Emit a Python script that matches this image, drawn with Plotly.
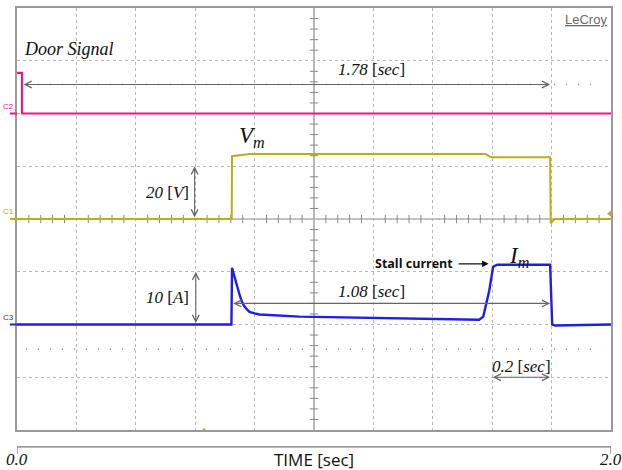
import plotly.graph_objects as go

# ---- data (time in s, amplitude in screen divisions) ----
door_t = [0.0, 0.017, 0.017, 2.0]
door_v = [2.77, 2.77, 2.0, 2.0]

volt_t = [0.0, 0.723, 0.724, 0.735, 0.760, 0.783, 1.20, 1.578, 1.597, 1.795, 1.797, 1.810, 2.0]
volt_v = [0.0, 0.0, 1.19, 1.20, 1.22, 1.23, 1.23, 1.23, 1.17, 1.17, -0.08, 0.0, 0.0]

curr_t = [0.0, 0.722, 0.724, 0.730, 0.736, 0.743, 0.750, 0.758, 0.766, 0.775, 0.783, 0.800,
          0.817, 0.951, 1.287, 1.556, 1.570, 1.590, 1.603, 1.617, 1.795, 1.802, 1.812, 2.0]
curr_v = [-2.0, -2.0, -0.925, -1.05, -1.17, -1.32, -1.45, -1.58, -1.66, -1.72, -1.76, -1.79,
          -1.81, -1.85, -1.89, -1.91, -1.85, -1.36, -0.906, -0.868, -0.868, -2.0, -2.02, -2.0]

x_ticks = [0.0, 2.0]
x_tick_labels = ["0.0", "2.0"]

PINK = "#f0147f"
YEL = "#b8b018"
BLUE = "#1e1ee8"

fig = go.Figure()

# center cross lines + minor ticks
fig.add_shape(type="line", x0=1.0, x1=1.0, y0=-4, y1=4, xref="x", yref="y",
              line=dict(color="#8a8a8a", width=1.2), layer="below")
fig.add_shape(type="line", x0=0, x1=2.0, y0=0, y1=0, xref="x", yref="y",
              line=dict(color="#8a8a8a", width=1.2), layer="below")
tick_x = [i * 0.04 for i in range(1, 50) if i % 5 != 0]
tick_y = [i * 0.2 - 4 for i in range(1, 40) if i % 5 != 0]
fig.add_trace(go.Scatter(x=tick_x, y=[0] * len(tick_x), mode="markers",
                         marker=dict(symbol="line-ns", size=6, line=dict(color="#8a8a8a", width=1)),
                         hoverinfo="skip", showlegend=False))
fig.add_trace(go.Scatter(x=[1.0] * len(tick_y), y=tick_y, mode="markers",
                         marker=dict(symbol="line-ew", size=6, line=dict(color="#8a8a8a", width=1)),
                         hoverinfo="skip", showlegend=False))

# cursor dotted lines
for yv in [2.55, -2.47]:
    fig.add_shape(type="line", x0=0.03, x1=1.97, y0=yv, y1=yv, xref="x", yref="y",
                  line=dict(color="#909090", width=1.5, dash="1px,11px"), layer="below")

# traces
fig.add_trace(go.Scatter(x=door_t, y=door_v, mode="lines", line=dict(color=PINK, width=2.2),
                         showlegend=False, name="C2"))
fig.add_trace(go.Scatter(x=volt_t, y=volt_v, mode="lines", line=dict(color=YEL, width=2),
                         showlegend=False, name="C1"))
fig.add_trace(go.Scatter(x=curr_t, y=curr_v, mode="lines", line=dict(color=BLUE, width=2.4),
                         showlegend=False, name="C3"))

ann = []
def txt(x, y, s, size=16, family="Liberation Serif", color="#111", **kw):
    ann.append(dict(x=x, y=y, xref="x", yref="y", text=s, showarrow=False,
                    font=dict(size=size, family=family, color=color), **kw))

def darrow(x0, y0, x1, y1, side="end+start", color="#666666", head=5):
    ann.append(dict(x=x1, y=y1, ax=x0, ay=y0, xref="x", yref="y", axref="x", ayref="y",
                    text="", showarrow=True, arrowhead=head, startarrowhead=head,
                    arrowside=side, arrowwidth=1.1, arrowcolor=color, arrowsize=1.2,
                    startarrowsize=1.2))

txt(0.175, 3.23, "<i>Door Signal</i>", size=18)
txt(1.193, 2.83, "<i>1.78</i> [<i>sec</i>]", size=17)
darrow(0.017, 2.55, 1.795, 2.55)
txt(0.79, 1.55, "<i>V<sub>m</sub></i>", size=23)
txt(0.508, 0.51, "<i>20</i> [<i>V</i>]", size=17)
darrow(0.598, 0.0, 0.598, 1.0)
txt(0.508, -1.49, "<i>10</i> [<i>A</i>]", size=17)
darrow(0.602, -2.0, 0.602, -1.0)
txt(1.193, -1.38, "<i>1.08</i> [<i>sec</i>]", size=17)
darrow(0.723, -1.60, 1.795, -1.60)
txt(1.697, -2.79, "<i>0.2</i> [<i>sec</i>]", size=17)
darrow(1.597, -3.0, 1.795, -3.0)
txt(1.335, -0.85, "<b>Stall current</b>", size=12.5, family="Open Sans", color="#111")
darrow(1.482, -0.85, 1.588, -0.85, side="end", color="#111111", head=2)
txt(1.69, -0.72, "<i>I<sub>m</sub></i>", size=23)

# LeCroy logo
ann.append(dict(x=0.996, y=0.995, xref="paper", yref="paper", xanchor="right", yanchor="top",
                text="<u>LeCroy</u>", showarrow=False,
                font=dict(size=13, family="Liberation Sans", color="#6a6a6a")))

# channel labels at the left
for lab, yv, col in [("C2", 2.0, PINK), ("C1", 0.0, YEL), ("C3", -2.0, BLUE)]:
    ann.append(dict(x=0, y=yv, xref="paper", yref="y", xanchor="right", yanchor="bottom",
                    xshift=-1, yshift=1, text=lab, showarrow=False,
                    font=dict(size=8, family="Liberation Sans", color=col)))
    fig.add_shape(type="line", x0=-0.012, x1=0, y0=yv, y1=yv, xref="paper", yref="y",
                  line=dict(color=col, width=2))

# trigger markers
fig.add_trace(go.Scatter(x=[2.0], y=[0.1], mode="markers", cliponaxis=False,
                         marker=dict(symbol="triangle-left", size=8, color=YEL),
                         showlegend=False, hoverinfo="skip"))
fig.add_trace(go.Scatter(x=[0.63], y=[-4.0], mode="markers", cliponaxis=False,
                         marker=dict(symbol="triangle-up", size=5, color="#a8c040"),
                         showlegend=False, hoverinfo="skip"))

# bottom time bracket
fig.add_shape(type="line", x0=0, x1=2.0, y0=-0.04, y1=-0.04, xref="x", yref="paper",
              line=dict(color="#777777", width=1.2))
for xv in [0, 2.0]:
    fig.add_shape(type="line", x0=xv, x1=xv, y0=-0.04, y1=-0.057, xref="x", yref="paper",
                  line=dict(color="#777777", width=1.2))
ann.append(dict(x=0.5, y=-0.069, xref="paper", yref="paper", yanchor="middle",
                text="TIME [sec]", showarrow=False,
                font=dict(size=17, family="Liberation Sans Narrow, Open Sans", color="#111")))
for xv, lab in zip(x_ticks, x_tick_labels):
    ann.append(dict(x=xv, y=-0.069, xref="x", yref="paper", yanchor="middle", xanchor="center",
                    text="<i>" + lab + "</i>", showarrow=False,
                    font=dict(size=17, family="Liberation Serif", color="#111")))

fig.update_layout(
    width=622, height=470,
    margin=dict(l=17, r=11, t=6, b=40),
    paper_bgcolor="white", plot_bgcolor="white",
    annotations=ann,
    xaxis=dict(range=[0, 2.0], dtick=0.2, tick0=0, showgrid=True, gridcolor="#b8b8b8",
               griddash="dot", gridwidth=1, showticklabels=False, ticks="", zeroline=False,
               showline=True, mirror=True, linecolor="#9a9a9a", linewidth=1.5, fixedrange=True),
    yaxis=dict(range=[-4, 4], dtick=1, tick0=0, showgrid=True, gridcolor="#b8b8b8",
               griddash="dot", gridwidth=1, showticklabels=False, ticks="", zeroline=False,
               showline=True, mirror=True, linecolor="#9a9a9a", linewidth=1.5, fixedrange=True),
)

fig.write_html("out.html", config={"displayModeBar": False},
               post_script="document.body.style.margin='0';document.body.style.overflow='hidden';")
